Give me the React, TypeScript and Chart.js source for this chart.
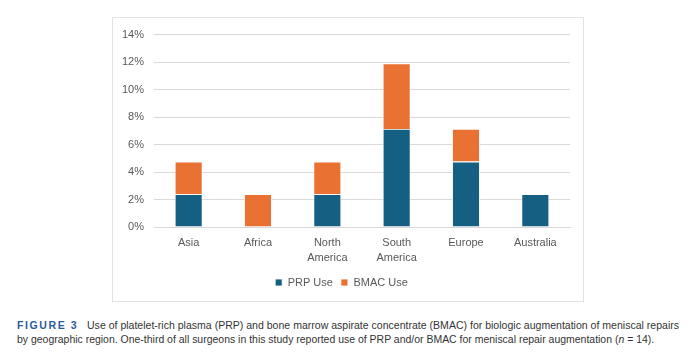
import React, { useEffect, useLayoutEffect, useRef } from "react";
import { Chart, registerables } from "chart.js";

Chart.register(...registerables);

const categories: (string | string[])[] = ["Asia", "Africa", ["North", "America"], ["South", "America"], "Europe", "Australia"];
const prpUse = [2.38, 0, 2.38, 7.14, 4.76, 2.38];
const bmacUse = [2.38, 2.38, 2.38, 4.76, 2.38, 0];
const yTicksMax = 14;
const yTickStep = 2;
const seriesNames = ["PRP Use", "BMAC Use"];
const captionLabel = "FIGURE 3";
const captionLine1 = "Use of platelet-rich plasma (PRP) and bone marrow aspirate concentrate (BMAC) for biologic augmentation of meniscal repairs";
const captionLine2a = "by geographic region. One-third of all surgeons in this study reported use of PRP and/or BMAC for meniscal repair augmentation (";
const captionLine2b = "n";
const captionLine2c = " = 14).";

const FONT = "'Liberation Sans', Arial, sans-serif";

function FitLine({ width, children, style }: { width: number; children: React.ReactNode; style?: React.CSSProperties }) {
  const ref = useRef<HTMLSpanElement>(null);
  useLayoutEffect(() => {
    const el = ref.current;
    if (!el) return;
    el.style.transform = "none";
    const w = el.offsetWidth;
    if (w > 0) el.style.transform = `scaleX(${width / w})`;
  }, [width]);
  return (
    <span ref={ref} style={{ display: "inline-block", whiteSpace: "nowrap", transformOrigin: "left center", ...style }}>
      {children}
    </span>
  );
}

export default function App() {
  const canvasRef = useRef<HTMLCanvasElement>(null);

  useEffect(() => {
    if (!canvasRef.current) return;
    const chart = new Chart(canvasRef.current, {
      type: "bar",
      data: {
        labels: categories,
        datasets: [
          {
            label: seriesNames[0],
            data: prpUse,
            backgroundColor: "#156082",
            borderColor: "#ffffff",
            borderWidth: 0.8,
            categoryPercentage: 0.8,
            barPercentage: 0.5,
          },
          {
            label: seriesNames[1],
            data: bmacUse,
            backgroundColor: "#E97132",
            borderColor: "#ffffff",
            borderWidth: 0.8,
            categoryPercentage: 0.8,
            barPercentage: 0.5,
          },
        ],
      },
      options: {
        animation: false,
        responsive: false,
        maintainAspectRatio: false,
        layout: { padding: { left: 0, right: 13, top: 10, bottom: 3 } },
        plugins: {
          tooltip: { enabled: false },
          legend: {
            position: "bottom",
            labels: {
              boxWidth: 7,
              boxHeight: 7,
              padding: 8,
              color: "#595959",
              font: { family: FONT, size: 11 },
            },
          },
        },
        scales: {
          x: {
            stacked: true,
            grid: { display: false, drawTicks: false },
            border: { display: true, color: "#d9d9d9", width: 1 },
            ticks: {
              color: "#595959",
              font: { family: FONT, size: 11, lineHeight: 1.4 },
              padding: 8,
              maxRotation: 0,
              autoSkip: false,
            },
            afterFit: (s: any) => {
              s.height = 42;
            },
          },
          y: {
            stacked: true,
            min: 0,
            max: yTicksMax,
            grid: { color: "#d9d9d9", drawTicks: false, lineWidth: 1 },
            border: { display: false },
            ticks: {
              stepSize: yTickStep,
              color: "#595959",
              font: { family: FONT, size: 11 },
              padding: 10,
              callback: (v: any) => `${v}%`,
            },
            afterFit: (s: any) => {
              s.width = 41;
            },
          },
        },
      },
    });
    return () => chart.destroy();
  }, []);

  return (
    <div style={{ position: "absolute", left: 0, top: 0, width: 692, height: 363, background: "#fff", fontFamily: FONT }}>
      <div
        style={{
          position: "absolute",
          left: 112,
          top: 17,
          width: 470,
          height: 283,
          border: "1px solid #e2e2e2",
          background: "#fff",
        }}
      >
        <canvas ref={canvasRef} width={470} height={283} style={{ display: "block", width: 470, height: 283 }} />
      </div>
      <div style={{ position: "absolute", left: 17, top: 318, fontSize: 10.5, lineHeight: "14px", color: "#333" }}>
        <div style={{ whiteSpace: "nowrap", height: 14 }}>
          <span style={{ display: "inline-block", width: 70, fontWeight: "bold", color: "#2b5c9e", letterSpacing: 1.6 }}>
            {captionLabel}
          </span>
          <FitLine width={592}>{captionLine1}</FitLine>
        </div>
        <div style={{ whiteSpace: "nowrap", height: 14 }}>
          <FitLine width={637}>
            {captionLine2a}
            <i>{captionLine2b}</i>
            {captionLine2c}
          </FitLine>
        </div>
      </div>
    </div>
  );
}
